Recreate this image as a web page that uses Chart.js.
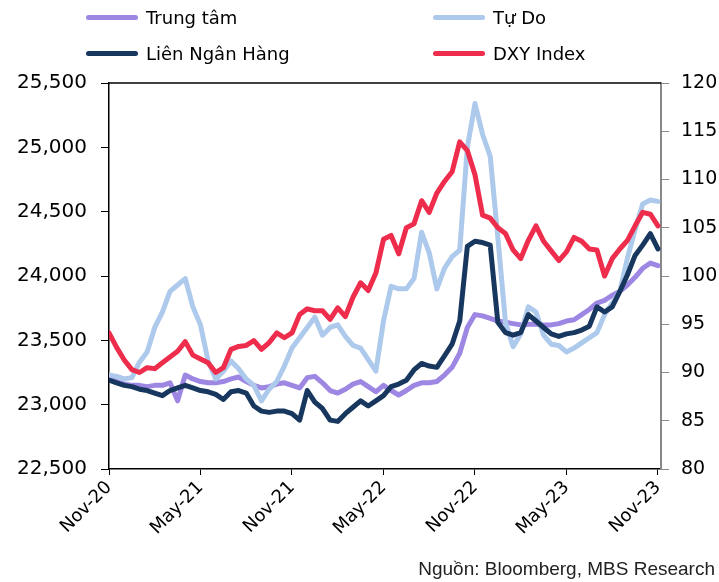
<!DOCTYPE html>
<html>
<head>
<meta charset="utf-8">
<script src="https://cdn.jsdelivr.net/npm/chart.js@4/dist/chart.umd.min.js"></script>
<style>
    body { margin: 0; background: #fff; }
    #wrap { position: relative; width: 719px; height: 582px; font-family: "DejaVu Sans", sans-serif; }
    #chart { position: absolute; left: 0; top: 0; }
    .lg { position: absolute; display: flex; align-items: center; font-size: 18px; color: #000; height: 24px; }
    .lg .mk { display: inline-block; width: 52px; height: 5px; border-radius: 3px; margin-right: 8px; }
    #src { position: absolute; right: 4px; top: 558px; font-family: "Liberation Sans", sans-serif; font-size: 19px; color: #222; }
</style>
</head>
<body>
<div id="wrap">
    <canvas id="chart" width="719" height="582"></canvas>
    <div id="legend"></div>
    <div id="src">Nguồn: Bloomberg, MBS Research</div>
</div>
<script>
// Half-month samples, Nov-20 .. Nov-23
const xLabels = ['Nov-20', 'May-21', 'Nov-21', 'May-22', 'Nov-22', 'May-23', 'Nov-23'];

const trungTam = [
    23200, 23180, 23160, 23150, 23150, 23140, 23150, 23150, 23170, 23030,
    23230, 23200, 23180, 23170, 23170, 23180, 23200, 23215, 23180, 23150,
    23130, 23140, 23160, 23170, 23150, 23130, 23210, 23220, 23170, 23110,
    23090, 23120, 23160, 23180, 23140, 23100, 23150, 23110, 23075, 23110,
    23150, 23170, 23170, 23180, 23230, 23290, 23400, 23600, 23700, 23690,
    23670, 23650, 23640, 23630, 23620, 23625, 23625, 23620, 23620, 23630,
    23650, 23660, 23700, 23740, 23790, 23810, 23850, 23880, 23930, 23990,
    24060, 24100, 24080
];
const tuDo = [
    23230, 23220, 23200, 23210, 23330, 23410, 23600, 23720, 23880, 23930,
    23980, 23760, 23620, 23340, 23200, 23260, 23340, 23280, 23200, 23150,
    23030, 23120, 23180, 23300, 23440, 23520, 23600, 23680, 23540, 23600,
    23620, 23530, 23460, 23440, 23350, 23260, 23650, 23920, 23900, 23900,
    23980, 24340, 24180, 23900, 24060, 24150, 24200, 25000, 25340, 25100,
    24930, 24300, 23640, 23450, 23550, 23760, 23720, 23540, 23470, 23460,
    23410, 23440, 23480, 23520, 23560, 23700, 23790, 23880, 24140, 24360,
    24560, 24590, 24580
];
const lienNganHang = [
    23190, 23170, 23150, 23140, 23120, 23110, 23090, 23070, 23110, 23130,
    23150, 23130, 23110, 23100, 23080, 23040, 23100, 23110, 23090, 22990,
    22950, 22940, 22950, 22950, 22930, 22880, 23110, 23020, 22970, 22880,
    22870, 22930, 22980, 23030, 22990, 23030, 23070, 23140, 23160, 23190,
    23270, 23320, 23300, 23290, 23380, 23470, 23650, 24230, 24270, 24260,
    24240, 23640, 23560, 23540, 23560, 23700, 23650, 23600, 23550, 23530,
    23550, 23560, 23580, 23610, 23760, 23720, 23760, 23880, 24010, 24160,
    24240, 24330, 24210
];
const dxy = [
    94.1, 92.6, 91.3, 90.3, 90.0, 90.5, 90.4, 91.0, 91.6, 92.2,
    93.2, 91.8, 91.4, 91.0, 90.0, 90.5, 92.4, 92.7, 92.8, 93.3,
    92.4, 93.1, 94.1, 93.6, 94.1, 96.0, 96.6, 96.4, 96.4, 95.5,
    96.7, 95.8, 97.8, 99.3, 98.5, 100.3, 103.8, 104.2, 102.3, 105.0,
    105.4, 107.8, 106.6, 108.6, 109.8, 110.8, 113.9, 113.0, 110.5, 106.3,
    106.0, 105.0, 104.4, 102.7, 101.8, 103.7, 105.2, 103.6, 102.6, 101.6,
    102.5, 104.0, 103.6, 102.8, 102.7, 100.0, 101.8, 102.8, 103.7, 105.2,
    106.6, 106.4, 105.2
];

const series = [
    { label: 'Trung tâm', data: trungTam, color: '#9D87E3', axis: 'y', order: 3 },
    { label: 'Tự Do', data: tuDo, color: '#ADC9EB', axis: 'y', order: 2 },
    { label: 'Liên Ngân Hàng', data: lienNganHang, color: '#17375E', axis: 'y', order: 1 },
    { label: 'DXY Index', data: dxy, color: '#EE2C4C', axis: 'y1', order: 0 }
];

// Legend (2 columns)
const legendPos = [[86, 5], [433, 5], [86, 41], [433, 41]];
const legendEl = document.getElementById('legend');
series.forEach((s, i) => {
    const item = document.createElement('div');
    item.className = 'lg';
    item.style.left = legendPos[i][0] + 'px';
    item.style.top = legendPos[i][1] + 'px';
    item.innerHTML = `<span class="mk" style="background:${s.color}"></span>${s.label}`;
    legendEl.appendChild(item);
});

const topLine = {
    id: 'topLine',
    afterDraw(chart) {
        const { ctx, chartArea } = chart;
        ctx.save();
        ctx.strokeStyle = '#000';
        ctx.lineWidth = 1.5;
        ctx.beginPath();
        ctx.moveTo(chartArea.left, chartArea.top);
        ctx.lineTo(chartArea.right, chartArea.top);
        ctx.stroke();
        ctx.restore();
    }
};

const ctx = document.getElementById('chart').getContext('2d');
new Chart(ctx, {
    type: 'line',
    data: {
        datasets: series.map(s => ({
            label: s.label,
            data: s.data.map((v, i) => ({ x: i / 2, y: v })),
            borderColor: s.color,
            borderWidth: 5,
            pointRadius: 0,
            tension: 0,
            borderJoinStyle: 'round',
            borderCapStyle: 'round',
            yAxisID: s.axis,
            order: s.order
        }))
    },
    options: {
        responsive: false,
        animation: false,
        devicePixelRatio: 1,
        layout: { padding: { top: 83, left: 0, right: 0, bottom: 0 } },
        plugins: { legend: { display: false }, tooltip: { enabled: false } },
        scales: {
            x: {
                type: 'linear',
                min: 0,
                max: 36.2,
                afterFit: s => { s.height = 113; },
                border: { color: '#000', width: 1.5 },
                grid: { drawOnChartArea: false, tickLength: 6, tickColor: '#000' },
                ticks: {
                    stepSize: 6,
                    includeBounds: false,
                    autoSkip: false,
                    minRotation: 45,
                    maxRotation: 45,
                    padding: 2,
                    color: '#000',
                    font: { family: 'DejaVu Sans', size: 18 },
                    callback: v => (v % 6 === 0 ? xLabels[v / 6] : '')
                }
            },
            y: {
                position: 'left',
                min: 22500,
                max: 25500,
                afterFit: s => { s.width = 109; },
                border: { color: '#000', width: 1.5 },
                grid: { drawOnChartArea: false, tickLength: 8, tickColor: '#000' },
                ticks: {
                    stepSize: 500,
                    padding: 14,
                    color: '#000',
                    font: { family: 'DejaVu Sans', size: 20 },
                    callback: v => v.toLocaleString('en-US')
                }
            },
            y1: {
                position: 'right',
                min: 80,
                max: 120,
                afterFit: s => { s.width = 58; },
                border: { color: '#888', width: 2 },
                grid: { drawOnChartArea: false, tickLength: 8, tickColor: '#888' },
                ticks: {
                    stepSize: 5,
                    padding: 12,
                    color: '#000',
                    font: { family: 'DejaVu Sans', size: 19 }
                }
            }
        }
    },
    plugins: [topLine]
});
</script>
</body>
</html>
